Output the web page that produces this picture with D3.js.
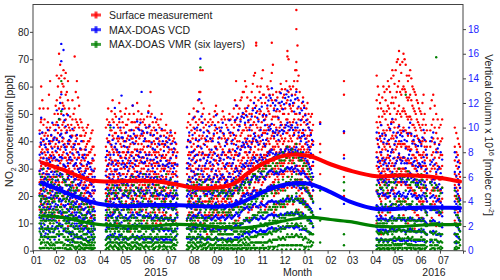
<!DOCTYPE html>
<html><head><meta charset="utf-8">
<script src="https://cdn.jsdelivr.net/npm/d3@7"></script>
<style>body{margin:0;background:#fff}svg{display:block;font-family:Arial,"Liberation Sans",sans-serif}</style>
</head><body><svg id="c" width="500" height="280"></svg>
<script>
// ---- tick labels ----
const monthLabels = ["01","02","03","04","05","06","07","08","09","10","11","12","01","02","03","04","05","06","07"];
const leftTicks = [0,10,20,30,40,50,60,70,80];
const rightTicks = [0,2,4,6,8,10,12,14,16,18];
const seriesNames = ["Surface measurement","MAX-DOAS  VCD","MAX-DOAS  VMR (six layers)"];

// ---- smoothed curves (day offset from 2015-01-01) ----
const lineDays   = [12,40,77,100,130,160,190,220,250,270,290,318,345,372,400,426,462,495,525,550,574];
const surfaceFit = [32.2,29.6,25.8,25.3,25.5,25.5,24.4,22.9,23.2,24.5,28.6,33.0,35.1,34.6,31.6,29.3,27.2,27.6,27.3,26.5,25.3];
const vcdFit     = [5.53,4.82,3.98,3.71,3.62,3.71,3.71,3.62,3.58,3.71,4.18,5.0,5.44,5.42,4.76,3.98,3.38,3.42,3.51,3.49,3.47];
const vmrFit     = [12.7,12.2,10.0,9.3,9.0,9.0,9.6,9.4,8.6,8.3,8.5,9.8,11.3,12.2,11.4,10.6,9.0,8.8,9.4,9.5,9.6];

// ---- scatter: [day, values...] ----
const surface = [
[9,52,44,38,33,29,25,21,15],[11,60,48,41,36,31,27,22,17,12],[14,52,46,40,34,30,26,23,19],[17,43,39,35,31,28,24,20,14,8],
[20,52,47,42,37,32,28,24,18],[23,62,45,40,35,30,26,21,16,10],[26,40,36,33,29,25,22,18,12],[29,50,44,38,34,30,27,23,19,13],
[32,64,55,47,41,36,31,27,22,16],[35,72,63,52,45,40,35,30,25,19,11],[38,64,58,50,44,38,33,28,23,17],[41,66,60,53,47,41,36,31,26,20,14],
[44,65,57,48,43,38,34,29,24,18],[47,62,55,46,40,35,31,27,22,15,9],[50,49,44,40,36,32,28,24,19,13],[53,55,48,42,37,33,29,25,20,14,4],
[56,71,52,45,39,34,30,26,21,15],[59,62,47,41,36,31,27,23,18,12],[62,53,45,39,34,30,26,22,17,11],[65,47,42,37,33,29,25,21,16,10],
[68,44,40,35,31,27,24,20,15,9],[71,43,38,34,30,26,22,18,13],[74,46,40,35,30,27,23,19,14,8],[77,41,36,32,28,25,21,17,12],
[80,44,38,33,29,25,22,18,13,7],[83,35,30,26,22,18,13],
[98,45,38,33,29,25,21,17,12],[101,52,46,40,35,31,27,23,18,11],[104,44,39,34,30,26,22,18,13],[107,55,48,42,37,32,28,24,19,14,8],
[110,50,43,38,33,29,25,21,16],[113,46,41,36,32,28,24,20,15,10],[116,54,47,41,36,32,28,24,19,13],[119,49,43,38,34,30,26,22,17],
[122,45,40,36,32,28,24,20,15,9],[125,52,46,40,35,31,27,23,18,12],[128,48,42,37,33,29,25,21,16],[131,44,39,35,31,27,23,19,14,7],
[134,53,47,41,36,32,28,24,19,13],[137,47,42,37,33,29,25,21,16],[140,54,48,42,37,33,29,25,20,14],[143,46,41,36,32,28,24,20,15,9],
[146,50,44,39,34,30,26,22,17],[149,48,43,38,34,30,26,22,17,11],[152,45,40,35,31,27,23,19,14],[155,51,45,40,35,31,27,23,18,12],
[158,58,49,43,38,33,29,25,20,14],[161,47,42,37,33,29,25,21,16,10],[164,44,39,35,31,27,23,19,14],[167,48,43,38,34,30,26,22,17,11],
[170,45,40,35,31,27,23,19,14],[173,50,44,39,34,30,26,22,17,12],[176,42,38,34,30,26,22,18,13],[179,46,40,35,31,27,23,19,14,8],
[182,41,36,32,28,24,20,16,11],[185,44,39,34,30,26,22,18,13],[188,40,35,31,27,23,19,15,10],[191,43,37,32,28,24,20,16,11],[194,36,31,27,23,19,14],
[207,45,38,32,28,24,20,16,11],[210,50,42,36,31,27,23,19,14,8],[213,44,38,33,29,25,21,17,12],[216,52,45,39,34,29,25,21,16,10],
[219,47,41,35,30,26,22,18,13],[222,55,46,40,35,30,26,22,17,11],[225,66,58,44,38,33,28,24,19,14],[228,66,50,42,36,31,27,23,18,12],
[231,48,41,35,30,26,22,18,13],[234,44,38,33,28,24,20,16,11,6],[237,50,43,37,32,27,23,19,14],[240,46,40,34,29,25,21,17,12,7],
[243,49,42,36,31,27,23,19,14],[246,53,45,38,33,28,24,20,15,9],[249,47,41,35,30,26,22,18,13],[252,44,38,33,28,24,20,16,11,6],
[255,51,43,37,32,27,23,19,14],[258,48,41,35,30,26,22,18,13,8],[261,45,39,34,29,25,21,17,12],[264,50,43,37,32,28,24,20,15,9],
[267,46,40,35,30,26,22,18,13],[270,52,45,39,34,29,25,21,16,10],[273,62,48,42,36,31,27,23,18],[276,50,44,38,33,29,25,21,16,11],
[279,55,48,42,37,32,28,24,19],[282,58,50,44,38,34,30,26,21,15],
[285,62,52,46,41,36,32,28,23,17],[288,56,49,44,39,35,31,27,22,16],[291,50,45,40,36,32,28,24,19,12],[294,58,50,44,39,34,30,26,21,15],
[297,64,54,47,41,36,32,28,23,17],[300,76,75,53,46,40,35,31,27,22,16],[303,55,48,42,37,33,29,25,20,14],[306,60,51,45,40,35,31,27,22,16],
[309,66,57,49,43,38,34,30,25,19],[312,54,48,43,38,34,30,26,21,15],[315,60,52,46,41,36,32,28,23,17],[318,57,50,44,39,35,31,27,22,16],
[321,76,65,55,48,42,37,33,28,22],[324,52,46,41,37,33,29,25,20,14],[327,58,51,45,40,36,32,28,23,17],[330,54,48,43,38,34,30,26,21],
[333,61,53,47,42,37,33,29,24,18],[336,56,50,44,39,35,31,27,22,16],[339,59,52,46,41,37,33,29,24],[342,73,71,55,48,43,38,34,29,23,17],
[345,60,53,47,42,38,34,30,25,19],[348,57,51,45,40,36,32,28,23],[351,62,54,48,43,38,34,30,25,18],[354,88,81,69,66,59,50,44,39,34,29,23],
[357,64,55,48,42,37,33,28,22,15],[360,52,46,41,37,33,29,24,18],[363,56,49,43,38,34,30,25,19,12],[366,50,44,39,35,31,27,22,16],
[369,54,48,42,37,33,28,23,17],[372,47,42,38,34,30,26,21],[375,50,44,39,35,31,26,20,14],[386,47,39,36,28],[418,62,57,43,35,27,20],
[462,64,55,47,41,36,31,27,22,16,10],[465,57,49,43,38,33,29,25,20,14],[468,52,46,40,35,31,27,23,18,12,6],[471,60,51,44,39,34,30,26,21,15],
[474,55,48,42,37,32,28,24,19,13,7],[477,62,53,46,40,35,31,27,22,16],[480,58,50,44,38,33,29,25,20,14,8],[483,66,56,48,42,37,32,28,23,17],
[486,61,52,45,39,34,30,26,21,15,9],[489,69,58,50,43,38,33,29,24,18],[492,73,62,53,46,40,35,30,25,19,12],[495,65,57,49,43,38,33,29,24,17],
[498,72,60,52,45,39,34,30,25,19,13],[501,68,58,50,44,38,33,29,24,18],[504,62,55,48,42,37,32,28,23,16,10],[507,66,57,49,43,37,32,28,23,17],
[510,60,53,46,40,35,31,27,22,15],[513,58,51,45,39,34,30,26,21,14,8],[516,55,48,42,37,33,29,25,20,13],[519,52,46,40,35,31,27,23,18,12],
[522,50,44,39,34,30,26,22,17],[525,57,48,41,36,31,27,23,18,11],[528,46,40,35,31,27,23,19,14],
[534,52,44,38,33,29,25,21,16,10],[538,57,48,41,36,31,27,23,18],[542,50,43,37,32,28,24,20,15,9],[546,45,39,34,30,26,22,18,13],[550,48,41,35,31,27,23,19,14],
[567,45,38,33,28,24,20,16,11,6],[571,41,35,30,26,22,18,14,9],[574,38,32,27,23,19,15,10]
];
const surfaceExtra = [
[10.5,47,39,34,30,26,22,18],[12.5,55,43,37,32,28,24,20,14],[15.5,48,42,36,32,27,24,20,16,11],[18.5,45,37,33,29,26,22,17],[21.5,57,44,39,34,30,26,21,15],
[24.5,42,38,34,31,27,23,19,13],[27.5,46,41,35,31,27,24,20,15],[30.5,53,46,39,33,29,25,21,16],[33.5,60,50,43,38,33,29,24,20,14],[36.5,68,56,48,42,37,32,27,22,16],
[39.5,61,54,46,40,35,30,25,20,13],[42.5,63,52,45,39,34,30,26,21,16],[45.5,58,50,44,38,33,28,24,19],[48.5,52,45,39,34,30,26,21,17,11],[51.5,46,42,38,33,29,25,21,16],
[54.5,50,44,39,35,31,27,23,18,12],[57.5,58,48,42,37,32,28,24,19,13],[60.5,56,46,39,34,30,26,22,16],[63.5,48,42,37,32,28,24,20,15,9],[66.5,45,40,35,31,27,23,18,13],
[69.5,42,37,33,29,25,21,17,12],[72.5,45,39,35,31,27,23,19,14,9],[75.5,40,36,32,28,24,20,16,11],[78.5,43,37,32,28,24,20,16,12],[81.5,38,33,29,25,21,16,10],
[99.5,48,41,35,31,27,23,19,15,9],[102.5,47,40,36,32,28,24,20,16],[105.5,51,44,38,33,29,25,21,17,12],[108.5,47,41,36,31,27,23,19,14],[111.5,49,43,37,33,29,25,21,17,11],
[114.5,45,40,35,31,27,23,19,15],[117.5,51,44,39,34,30,26,22,17,12],[120.5,47,41,36,32,28,24,20,15],[123.5,50,43,38,34,30,26,22,17,11],[126.5,46,41,36,32,28,24,20,16],
[129.5,50,44,38,34,30,26,22,17,10],[132.5,47,41,36,32,28,24,20,15],[135.5,50,44,39,34,30,26,22,18,12],[138.5,45,40,35,31,27,23,19,14],[141.5,51,45,39,35,31,27,23,18,11],
[144.5,48,42,37,33,29,25,21,16],[147.5,47,42,37,32,28,24,20,15,9],[150.5,46,41,36,32,28,24,20,16],[153.5,49,43,38,33,29,25,21,16,10],[156.5,53,46,40,36,32,28,24,19],
[159.5,50,44,39,35,31,27,23,18,12],[162.5,45,40,36,32,28,24,20,15],[165.5,47,41,36,32,28,24,20,16,10],[168.5,46,41,36,32,28,24,20,15],[171.5,48,42,37,33,29,25,21,16,10],
[174.5,44,39,35,31,27,23,19,14],[177.5,44,39,34,30,26,22,18,13,8],[180.5,43,38,33,29,25,21,17,12],[183.5,42,37,33,29,25,21,17,12],[186.5,42,37,32,28,24,20,16,11],
[189.5,41,36,32,28,24,20,16,11],[192.5,39,34,29,25,21,16],
[208.5,47,40,35,30,26,22,18,13],[211.5,46,40,35,30,26,22,18,13,9],[214.5,48,41,36,31,27,23,19,14],[217.5,49,43,37,32,28,24,20,15,9],[220.5,51,44,38,33,28,24,20,15],
[223.5,58,48,42,36,31,27,23,18,12],[226.5,54,47,41,35,30,26,22,17],[229.5,52,45,39,34,29,25,21,16,10],[232.5,46,40,35,30,26,22,18,13],[235.5,47,40,35,30,26,22,18,13,8],
[238.5,48,41,36,31,26,22,18,13],[241.5,47,41,35,30,26,22,18,13,8],[244.5,51,44,38,33,28,24,20,15],[247.5,50,43,37,32,27,23,19,14,9],[250.5,45,39,34,29,25,21,17,12],
[253.5,48,41,35,30,26,22,18,13,8],[256.5,49,42,36,31,27,23,19,14],[259.5,46,40,35,30,26,22,18,13,9],[262.5,48,41,36,31,27,23,19,14],[265.5,48,42,36,31,27,23,19,14,8],
[268.5,49,43,37,32,28,24,20,15],[271.5,55,47,41,35,30,26,22,17,11],[274.5,53,46,40,35,30,26,22,17],[277.5,52,46,40,35,31,27,23,18,12],[280.5,56,49,43,38,33,29,25,20],
[283.5,58,50,44,39,34,30,26,21,15],[286.5,60,51,45,40,36,32,28,23],[289.5,53,47,42,38,34,30,26,21,14],[292.5,55,48,42,37,33,29,25,20],[295.5,61,52,46,40,35,31,27,22,16],
[298.5,65,56,49,43,38,34,30,25],[301.5,60,51,45,40,35,31,27,22,16],[304.5,58,50,44,39,34,30,26,21],[307.5,63,54,47,42,37,33,29,24,18],[310.5,57,50,44,39,35,31,27,22],
[313.5,56,49,44,39,35,31,27,22,16],[316.5,59,51,45,40,36,32,28,23],[319.5,62,53,46,41,37,33,29,24,18],[322.5,68,57,49,43,38,34,30,25],[325.5,55,49,43,38,34,30,26,21,15],
[328.5,56,49,44,39,35,31,27,22],[331.5,58,51,45,40,36,32,28,23,17],[334.5,59,52,46,41,36,32,28,23],[337.5,57,50,45,40,36,32,28,23,17],[340.5,62,54,48,43,38,34,30,25],
[343.5,70,58,50,44,40,36,32,27,20],[346.5,59,52,46,41,37,33,29,24],[349.5,60,53,47,42,37,33,29,24,17],[352.5,66,57,50,44,39,35,31,26],[355.5,75,62,52,46,41,36,31,26,19],
[358.5,58,50,44,39,35,31,26,20],[361.5,54,48,43,38,34,30,26,21,14],[364.5,53,47,42,37,33,29,24,18],[367.5,52,46,41,36,32,28,23,17],[370.5,50,45,40,36,32,27,22],
[373.5,49,43,38,34,30,25,19],[376.5,46,40,35,31,27,22],
[463.5,60,52,45,39,34,30,26,21,15],[466.5,54,47,41,36,32,28,24,19,13],[469.5,56,49,42,37,33,29,25,20,14],[472.5,58,50,43,38,33,29,25,20],[475.5,59,51,44,39,34,30,26,21,15],
[478.5,60,52,45,39,34,30,26,21],[481.5,63,54,47,41,36,31,27,22,16],[484.5,64,54,47,41,36,31,27,22],[487.5,66,56,48,42,37,32,28,23,17],[490.5,70,60,51,45,39,34,30,25],
[493.5,68,58,50,44,39,34,30,25,18],[496.5,69,59,51,44,39,34,30,25],[499.5,70,59,51,44,39,34,30,25,18],[502.5,64,56,49,43,38,33,29,24],[505.5,64,56,49,43,38,33,29,24,17],
[508.5,63,55,48,42,37,32,28,23],[511.5,59,52,46,40,35,31,27,22,15],[514.5,57,50,44,38,34,30,26,21],[517.5,54,47,41,36,32,28,24,19,13],[520.5,51,45,40,35,31,27,23,18],
[523.5,54,46,40,35,31,27,23,18,12],[526.5,50,43,38,33,29,25,21,16],[529.5,44,38,34,30,26,22,18],
[536,55,46,40,35,30,26,22,17,12],[540,53,45,39,34,30,26,22,17],[544,48,41,36,31,27,23,19,14,10],[548,46,40,35,30,26,22,18],
[569,43,36,31,27,23,19,15,10],[572.5,39,33,28,24,20,16,12]
];
const vcd = [
[9,9.5,7.8,6.5,5.4,4.5,3.6,2.7,1.8],[11,10.8,8.6,7.1,6.0,5.0,4.1,3.2,2.2,1.2],[14,9.0,7.5,6.3,5.3,4.4,3.5,2.6,1.6],[17,8.4,7.0,5.9,5.0,4.2,3.3,2.4,1.4],
[20,9.8,8.0,6.7,5.6,4.7,3.8,2.9,1.9,1.0],[23,8.7,7.2,6.0,5.1,4.3,3.4,2.5,1.5],[26,10.4,8.3,6.9,5.8,4.8,3.9,3.0,2.0],[29,9.2,7.6,6.4,5.4,4.5,3.6,2.7,1.7,0.9],
[32,11.4,9.0,7.4,6.2,5.2,4.3,3.3,2.3],[35,10.7,8.8,7.3,6.1,5.1,4.1,3.1,2.1,1.2],[38,16.8,15.4,12.7,9.5,7.6,6.2,5.0,4.0,3.0,1.9],[41,16.3,11.0,8.6,7.0,5.8,4.7,3.7,2.7,1.6],
[44,10.1,8.2,6.8,5.6,4.6,3.7,2.8,1.8],[47,11.0,8.7,7.1,5.9,4.8,3.8,2.8,1.8,0.8],[50,9.3,7.6,6.3,5.2,4.3,3.4,2.5,1.5],[53,9.9,7.9,6.4,5.3,4.3,3.4,2.5,1.5,0.7],
[56,8.6,7.0,5.8,4.8,3.9,3.1,2.2,1.3],[59,9.4,7.4,6.0,4.9,4.0,3.1,2.2,1.3],[62,7.8,6.4,5.3,4.4,3.6,2.8,2.0,1.1],[65,8.9,7.0,5.7,4.7,3.8,3.0,2.1,1.2,0.6],
[68,7.5,6.1,5.0,4.1,3.3,2.5,1.7,0.9],[71,8.2,6.5,5.3,4.3,3.5,2.7,1.9,1.0],[74,7.2,5.9,4.8,4.0,3.2,2.4,1.6,0.8],[77,6.8,5.6,4.6,3.8,3.0,2.3,1.5],
[80,7.5,6.0,4.9,4.0,3.2,2.4,1.6,0.9],[83,6.0,4.9,4.0,3.2,2.5,1.7],
[98,7.6,6.1,5.0,4.1,3.3,2.5,1.7,0.9],[101,8.8,7.0,5.6,4.6,3.7,2.9,2.1,1.2],[104,10.2,7.8,6.2,5.0,4.0,3.1,2.2,1.3,0.7],[107,9.0,7.2,5.8,4.7,3.8,2.9,2.0,1.1],
[110,11.6,8.4,6.6,5.3,4.2,3.2,2.3,1.4],[113,8.2,6.6,5.3,4.3,3.4,2.6,1.8,1.0],[116,10.7,8.0,6.3,5.0,4.0,3.1,2.2,1.3,0.6],[119,12.6,9.2,7.0,5.5,4.3,3.3,2.3,1.3],
[122,8.5,6.8,5.5,4.5,3.6,2.7,1.9,1.0],[125,9.6,7.5,6.0,4.8,3.8,2.9,2.0,1.1],[128,8.0,6.5,5.3,4.3,3.4,2.6,1.8,0.9],[131,9.3,7.3,5.8,4.7,3.7,2.8,1.9,1.0],
[134,11.8,8.8,6.8,5.3,4.1,3.1,2.1,1.2],[137,8.7,7.0,5.6,4.5,3.6,2.7,1.8,0.9],[140,10.5,8.1,6.4,5.1,4.0,3.0,2.1,1.2,0.6],[143,9.8,7.6,6.0,4.8,3.8,2.9,2.0,1.1],
[146,12.9,9.5,7.2,5.6,4.3,3.2,2.2,1.2],[149,8.9,7.1,5.7,4.6,3.6,2.7,1.8,0.9],[152,10.0,7.8,6.2,4.9,3.8,2.8,1.9,1.0],[155,11.2,8.5,6.6,5.2,4.0,3.0,2.0,1.1],
[158,9.4,7.4,5.9,4.7,3.7,2.8,1.9,1.0],[161,8.3,6.7,5.4,4.4,3.5,2.6,1.7,0.8],[164,10.8,8.2,6.4,5.0,3.9,2.9,2.0,1.1],[167,9.1,7.2,5.8,4.6,3.6,2.7,1.8,0.9],
[170,8.6,6.9,5.6,4.5,3.5,2.6,1.7],[173,9.9,7.7,6.1,4.8,3.7,2.8,1.9,1.0],[176,8.1,6.5,5.2,4.2,3.3,2.5,1.6,0.8],[179,9.2,7.3,5.8,4.6,3.6,2.7,1.8,1.0],
[182,8.4,6.8,5.5,4.4,3.4,2.5,1.6],[185,9.6,7.5,5.9,4.7,3.7,2.7,1.8,0.9],[188,8.0,6.4,5.2,4.2,3.3,2.4,1.5],[191,8.8,7.0,5.6,4.5,3.5,2.6,1.7,0.9],[194,7.0,5.6,4.5,3.6,2.7,1.8],
[207,8.4,6.7,5.4,4.4,3.5,2.6,1.8,1.0],[210,9.6,7.5,6.0,4.8,3.8,2.9,2.0,1.1],[213,8.0,6.5,5.3,4.3,3.4,2.6,1.7,0.9],[216,10.8,8.1,6.4,5.0,3.9,2.9,2.0,1.1],
[219,9.0,7.2,5.8,4.6,3.6,2.7,1.8],[222,11.3,8.5,6.6,5.2,4.0,3.0,2.0,1.1],[225,15.6,9.8,7.4,5.7,4.4,3.3,2.3,1.3,0.7],[228,10.4,7.9,6.2,4.9,3.8,2.8,1.9,1.0],
[231,8.6,6.9,5.6,4.5,3.5,2.6,1.7],[234,9.3,7.3,5.8,4.6,3.6,2.7,1.8,0.9],[237,10.1,7.8,6.1,4.8,3.7,2.8,1.9,1.0],[240,8.2,6.6,5.3,4.3,3.4,2.5,1.6],
[243,9.5,7.4,5.9,4.7,3.6,2.7,1.8,0.9],[246,11.0,8.3,6.5,5.1,3.9,2.9,2.0,1.1],[249,8.8,7.0,5.6,4.5,3.5,2.6,1.7,0.8],[252,9.7,7.5,5.9,4.7,3.6,2.7,1.8],
[255,10.4,8.0,6.2,4.9,3.8,2.8,1.9,1.0],[258,8.5,6.8,5.5,4.4,3.4,2.5,1.6],[261,9.0,7.1,5.7,4.6,3.6,2.7,1.8,0.9],[264,10.6,8.1,6.3,5.0,3.9,2.9,2.0],
[267,8.7,6.9,5.6,4.5,3.5,2.6,1.7,0.9],[270,9.4,7.4,5.9,4.7,3.7,2.8,1.9],[273,11.8,8.6,6.7,5.3,4.1,3.1,2.1,1.1],[276,9.8,7.7,6.1,4.9,3.8,2.8,1.9,1.0],
[279,10.5,8.2,6.5,5.2,4.1,3.1,2.1],[282,11.2,8.8,7.0,5.6,4.4,3.3,2.2,1.2],
[285,10.4,8.4,6.8,5.5,4.4,3.4,2.4,1.4],[288,11.6,9.1,7.3,5.9,4.7,3.6,2.5,1.5],[291,9.8,8.0,6.6,5.4,4.3,3.3,2.3,1.3],[294,10.9,8.8,7.1,5.8,4.6,3.5,2.5,1.5],
[297,12.0,9.5,7.6,6.1,4.9,3.8,2.7,1.6],[300,11.2,9.0,7.3,5.9,4.7,3.6,2.6,1.5],[303,10.5,8.6,7.0,5.7,4.6,3.5,2.5,1.4],[306,12.4,9.8,7.8,6.3,5.0,3.9,2.8,1.7],
[309,11.0,9.0,7.4,6.0,4.8,3.7,2.6,1.5],[312,10.2,8.5,7.0,5.8,4.7,3.6,2.6,1.5],[315,11.8,9.5,7.7,6.3,5.1,3.9,2.8,1.7],[318,12.6,10.1,8.1,6.5,5.2,4.0,2.9,1.8],
[321,13.2,10.3,8.2,6.6,5.3,4.1,3.0,1.9],[324,11.4,9.3,7.6,6.2,5.0,3.9,2.8,1.7],[327,12.2,9.8,7.9,6.4,5.1,4.0,2.9,1.8],[330,10.8,9.0,7.5,6.2,5.0,3.9,2.8,1.7],
[333,12.8,10.2,8.2,6.6,5.3,4.1,3.0,1.9],[336,11.5,9.5,7.8,6.4,5.2,4.0,2.9],[339,12.4,10.0,8.1,6.6,5.3,4.1,3.0,1.9],[342,13.0,10.4,8.4,6.8,5.5,4.3,3.1,2.0],
[345,11.9,9.8,8.0,6.6,5.3,4.1,3.0,1.9],[348,12.6,10.2,8.3,6.8,5.5,4.3,3.1],[351,11.3,9.4,7.8,6.4,5.2,4.0,2.9,1.8],[354,12.9,10.4,8.4,6.9,5.6,4.4,3.2,2.0],
[357,11.7,9.6,7.9,6.5,5.3,4.1,3.0,1.9],[360,10.6,8.9,7.4,6.2,5.0,3.9,2.8],[363,12.1,9.8,8.0,6.5,5.3,4.1,3.0,1.8],[366,11.0,9.1,7.5,6.2,5.0,3.9,2.8,1.7],
[369,10.3,8.6,7.2,5.9,4.8,3.7,2.6],[372,9.8,8.2,6.8,5.6,4.5,3.5,2.5,1.5],[375,9.0,7.6,6.3,5.2,4.2,3.2,2.2],[386,10.3,5.2,3.4],[418,9.7,7.5,3.8],
[462,9.6,7.6,6.0,4.8,3.7,2.8,1.9,1.0,0.4],[465,8.4,6.8,5.5,4.4,3.4,2.5,1.6,0.8],[468,10.2,8.0,6.3,5.0,3.8,2.8,1.9,1.0],[471,8.8,7.0,5.6,4.5,3.5,2.6,1.7,0.8],
[474,9.4,7.4,5.9,4.6,3.6,2.6,1.7,0.9],[477,8.1,6.6,5.3,4.3,3.3,2.4,1.5,0.7],[480,9.9,7.7,6.0,4.7,3.6,2.6,1.7,0.9],[483,10.7,8.2,6.4,5.0,3.8,2.8,1.8,0.9],
[486,8.6,6.9,5.5,4.4,3.4,2.5,1.6,0.8],[489,9.2,7.3,5.8,4.6,3.5,2.6,1.7],[492,10.1,7.9,6.2,4.8,3.7,2.7,1.8,0.9],[495,8.9,7.1,5.6,4.4,3.4,2.5,1.6,0.8],
[498,9.7,7.6,6.0,4.7,3.6,2.6,1.7,0.9],[501,8.3,6.7,5.4,4.3,3.3,2.4,1.5],[504,9.5,7.5,5.9,4.6,3.5,2.6,1.7,0.8],[507,10.4,8.1,6.3,4.9,3.7,2.7,1.8,0.9],
[510,8.7,7.0,5.6,4.4,3.4,2.5,1.6],[513,9.3,7.3,5.8,4.5,3.5,2.5,1.6,0.8],[516,8.0,6.5,5.2,4.2,3.3,2.4,1.5],[519,9.0,7.1,5.7,4.5,3.5,2.6,1.7,0.8],
[522,8.5,6.8,5.4,4.3,3.3,2.4,1.5],[525,9.8,7.6,6.0,4.7,3.6,2.6,1.7,0.9],[528,8.2,6.6,5.3,4.2,3.2,2.3,1.4],
[534,8.9,7.0,5.5,4.3,3.3,2.4,1.5,0.7],[538,9.6,7.4,5.8,4.5,3.4,2.5,1.6],[542,8.0,6.4,5.1,4.0,3.1,2.2,1.3],[546,8.6,6.8,5.4,4.2,3.2,2.3,1.4,0.7],[550,7.4,5.9,4.7,3.7,2.8,1.9],
[567,8.0,6.4,5.1,4.0,3.1,2.2,1.4,0.7],[571,7.2,5.8,4.6,3.6,2.7,1.9,1.1],[574,6.4,5.1,4.1,3.2,2.4,1.6]
];
const vcdExtra = [
[10.5,8.8,7.2,6.0,5.0,4.0,3.1,2.2,1.4],[12.5,9.6,7.9,6.6,5.5,4.6,3.7,2.8,1.9],[15.5,8.6,7.1,5.8,4.8,3.9,3.0,2.1,1.2],[18.5,9.1,7.5,6.2,5.2,4.3,3.5,2.6,1.7],
[21.5,8.9,7.4,6.2,5.2,4.3,3.4,2.5,1.6],[24.5,9.4,7.7,6.4,5.4,4.5,3.6,2.7,1.8],[27.5,9.0,7.5,6.2,5.2,4.3,3.4,2.5,1.5],[30.5,9.8,8.1,6.8,5.7,4.7,3.8,2.8,1.9],
[33.5,10.2,8.3,6.9,5.7,4.7,3.7,2.8,1.8],[36.5,12.0,9.4,7.6,6.3,5.2,4.2,3.2,2.2],[39.5,11.5,9.2,7.5,6.2,5.1,4.1,3.1,2.1],[42.5,10.6,8.4,6.9,5.7,4.6,3.6,2.6,1.7],
[45.5,9.6,7.9,6.5,5.3,4.3,3.4,2.4,1.5],[48.5,9.0,7.4,6.1,5.0,4.1,3.2,2.3,1.4],[51.5,9.2,7.4,6.0,4.9,3.9,3.0,2.1,1.2],[54.5,8.4,6.9,5.6,4.6,3.7,2.8,1.9,1.0],
[57.5,8.9,7.1,5.8,4.7,3.8,2.9,2.0,1.1],[60.5,8.0,6.6,5.4,4.4,3.5,2.7,1.8,1.0],[63.5,8.3,6.7,5.5,4.5,3.6,2.7,1.8,1.0],[66.5,7.6,6.2,5.1,4.2,3.4,2.6,1.8,1.0],
[69.5,7.8,6.3,5.1,4.2,3.4,2.6,1.8,0.9],[72.5,7.0,5.7,4.7,3.8,3.0,2.2,1.4],[75.5,7.1,5.8,4.7,3.9,3.1,2.3,1.5,0.8],[78.5,6.6,5.4,4.4,3.6,2.8,2.0,1.3],[81.5,6.5,5.2,4.2,3.4,2.6,1.8,1.0],
[99.5,8.1,6.6,5.4,4.4,3.6,2.7,1.9,1.1],[102.5,9.4,7.4,5.9,4.7,3.7,2.8,1.9,1.0],[105.5,8.6,7.0,5.7,4.6,3.7,2.8,2.0,1.2],[108.5,10.0,7.8,6.2,4.9,3.9,3.0,2.1,1.2],
[111.5,8.7,7.0,5.6,4.5,3.6,2.7,1.9,1.0],[114.5,9.3,7.3,5.8,4.7,3.7,2.8,1.9,1.1],[117.5,10.0,7.7,6.1,4.9,3.9,3.0,2.1,1.2],[120.5,9.2,7.3,5.8,4.6,3.6,2.7,1.8,0.9],
[123.5,8.9,7.0,5.6,4.5,3.6,2.7,1.8,1.0],[126.5,8.4,6.8,5.5,4.4,3.5,2.6,1.7,0.9],[129.5,9.0,7.1,5.7,4.6,3.6,2.7,1.8,1.0],[132.5,9.8,7.7,6.1,4.9,3.9,2.9,2.0,1.1],
[135.5,9.5,7.5,6.0,4.8,3.8,2.9,2.0,1.1],[138.5,9.2,7.3,5.8,4.6,3.6,2.7,1.8,1.0],[141.5,9.9,7.7,6.1,4.9,3.8,2.9,2.0,1.1],[144.5,10.4,8.0,6.3,5.0,3.9,2.9,2.0,1.0],
[147.5,9.7,7.6,6.0,4.8,3.8,2.8,1.9,1.0],[150.5,9.1,7.2,5.8,4.6,3.6,2.7,1.8,0.9],[153.5,9.6,7.5,6.0,4.7,3.7,2.8,1.9,1.0],[156.5,10.1,7.8,6.2,4.9,3.8,2.8,1.9,1.0],
[159.5,8.8,7.0,5.6,4.5,3.5,2.6,1.7,0.9],[162.5,9.4,7.4,5.9,4.7,3.7,2.7,1.8,1.0],[165.5,9.8,7.6,6.0,4.8,3.7,2.8,1.9,1.0],[168.5,8.7,6.9,5.6,4.5,3.5,2.6,1.7,0.9],
[171.5,9.3,7.3,5.8,4.6,3.6,2.7,1.8,1.0],[174.5,8.9,7.0,5.6,4.5,3.5,2.6,1.7,0.9],[177.5,8.6,6.9,5.5,4.4,3.5,2.6,1.7,0.9],[180.5,8.8,7.0,5.6,4.5,3.5,2.6,1.7,0.9],
[183.5,9.0,7.1,5.7,4.5,3.5,2.6,1.7,0.9],[186.5,8.7,6.9,5.5,4.4,3.4,2.5,1.6,0.8],[189.5,8.3,6.7,5.4,4.3,3.4,2.5,1.6],[192.5,7.7,6.1,4.9,3.9,3.0,2.1,1.2],
[208.5,9.0,7.1,5.7,4.6,3.6,2.7,1.8,1.0],[211.5,8.8,7.0,5.6,4.5,3.5,2.6,1.7,0.9],[214.5,9.4,7.4,5.9,4.7,3.7,2.8,1.9,1.0],[217.5,9.9,7.7,6.1,4.8,3.8,2.8,1.9,1.0],
[220.5,10.0,7.8,6.2,4.9,3.8,2.8,1.9,1.0],[223.5,12.3,9.0,6.9,5.4,4.2,3.1,2.1,1.1],[226.5,10.9,8.3,6.5,5.1,3.9,2.9,2.0,1.0],[229.5,9.6,7.5,6.0,4.8,3.7,2.7,1.8,1.0],
[232.5,9.0,7.1,5.7,4.6,3.6,2.7,1.8,0.9],[235.5,9.7,7.6,6.0,4.8,3.7,2.7,1.8,1.0],[238.5,9.1,7.2,5.8,4.6,3.6,2.6,1.7,0.9],[241.5,8.9,7.0,5.6,4.5,3.5,2.6,1.7,0.9],
[244.5,10.2,7.9,6.2,4.9,3.8,2.8,1.9,1.0],[247.5,9.9,7.7,6.1,4.8,3.7,2.7,1.8,1.0],[250.5,9.2,7.3,5.8,4.6,3.6,2.6,1.7,0.9],[253.5,10.0,7.8,6.1,4.8,3.7,2.7,1.8,1.0],
[256.5,9.5,7.4,5.9,4.7,3.6,2.7,1.8,0.9],[259.5,8.8,7.0,5.6,4.5,3.5,2.6,1.7,0.9],[262.5,9.8,7.6,6.0,4.8,3.7,2.8,1.9,1.0],[265.5,9.6,7.5,6.0,4.8,3.7,2.7,1.8,1.0],
[268.5,9.0,7.1,5.7,4.6,3.6,2.7,1.8,0.9],[271.5,10.6,8.1,6.4,5.1,3.9,2.9,2.0,1.1],[274.5,10.8,8.3,6.5,5.2,4.0,3.0,2.0,1.1],[277.5,10.1,7.9,6.3,5.0,3.9,2.9,2.0,1.1],
[280.5,10.9,8.5,6.8,5.4,4.2,3.2,2.2,1.2],
[283.5,10.8,8.6,6.9,5.6,4.5,3.5,2.5,1.5],[286.5,11.0,8.8,7.1,5.8,4.6,3.5,2.5,1.5],[289.5,10.6,8.5,6.9,5.6,4.5,3.4,2.4,1.4],[292.5,10.2,8.4,6.9,5.7,4.6,3.5,2.5,1.5],
[295.5,11.4,9.1,7.4,6.0,4.8,3.7,2.6,1.6],[298.5,11.6,9.3,7.5,6.1,4.9,3.8,2.7,1.6],[301.5,10.8,8.8,7.2,5.9,4.7,3.6,2.6,1.5],[304.5,11.5,9.2,7.4,6.0,4.8,3.7,2.6,1.6],
[307.5,11.7,9.4,7.6,6.2,4.9,3.8,2.7,1.6],[310.5,10.6,8.7,7.2,5.9,4.8,3.7,2.6,1.6],[313.5,11.0,9.0,7.4,6.1,4.9,3.8,2.7,1.6],[316.5,12.2,9.8,7.9,6.4,5.2,4.0,2.9,1.8],
[319.5,12.4,9.9,8.0,6.5,5.2,4.0,2.9,1.8],[322.5,12.0,9.7,7.9,6.4,5.1,4.0,2.9,1.8],[325.5,11.8,9.6,7.8,6.3,5.1,4.0,2.9,1.8],[328.5,11.5,9.4,7.7,6.3,5.1,3.9,2.8,1.7],
[331.5,12.0,9.7,7.9,6.4,5.2,4.0,2.9,1.8],[334.5,12.1,9.8,8.0,6.5,5.2,4.0,2.9,1.8],[337.5,11.9,9.7,7.9,6.5,5.2,4.0,2.9,1.8],[340.5,12.7,10.2,8.3,6.7,5.4,4.2,3.0,1.9],
[343.5,12.5,10.1,8.2,6.7,5.4,4.2,3.0,1.9],[346.5,12.2,10.0,8.2,6.7,5.4,4.2,3.1,2.0],[349.5,12.0,9.8,8.0,6.6,5.3,4.1,3.0,1.9],[352.5,12.3,10.0,8.2,6.7,5.4,4.2,3.0,1.9],
[355.5,12.4,10.0,8.1,6.6,5.3,4.1,3.0,1.9],[358.5,11.2,9.2,7.6,6.3,5.1,3.9,2.8,1.7],[361.5,11.4,9.3,7.6,6.3,5.1,3.9,2.8,1.7],[364.5,11.6,9.4,7.7,6.3,5.1,3.9,2.8,1.7],
[367.5,10.6,8.8,7.3,6.0,4.8,3.7,2.7,1.6],[370.5,10.0,8.4,7.0,5.8,4.7,3.6,2.6,1.5],[373.5,9.4,7.9,6.6,5.4,4.4,3.4,2.4,1.4],[376.5,8.6,7.2,6.0,4.9,3.9,2.9,1.9],
[463.5,9.0,7.2,5.7,4.6,3.6,2.6,1.7,0.9],[466.5,9.3,7.3,5.8,4.6,3.5,2.6,1.7,0.8],[469.5,9.5,7.5,5.9,4.7,3.6,2.6,1.7,0.9],[472.5,9.1,7.2,5.7,4.5,3.5,2.5,1.6,0.8],
[475.5,8.7,6.9,5.5,4.4,3.4,2.5,1.6,0.8],[478.5,9.0,7.1,5.6,4.4,3.4,2.5,1.6,0.8],[481.5,10.3,8.0,6.2,4.9,3.7,2.7,1.8,0.9],[484.5,9.6,7.5,5.9,4.6,3.5,2.6,1.7,0.8],
[487.5,8.9,7.1,5.6,4.4,3.4,2.5,1.6,0.8],[490.5,9.6,7.6,6.0,4.7,3.6,2.6,1.7,0.9],[493.5,9.4,7.4,5.9,4.6,3.5,2.6,1.7,0.8],[496.5,9.3,7.3,5.8,4.5,3.5,2.5,1.6,0.8],
[499.5,9.0,7.1,5.6,4.4,3.4,2.5,1.6,0.8],[502.5,8.9,7.1,5.6,4.4,3.4,2.5,1.6,0.8],[505.5,10.0,7.8,6.1,4.8,3.6,2.6,1.7,0.9],[508.5,9.5,7.5,5.9,4.6,3.5,2.6,1.7,0.8],
[511.5,9.0,7.2,5.7,4.5,3.5,2.5,1.6,0.8],[514.5,8.6,6.9,5.5,4.3,3.3,2.4,1.5,0.7],[517.5,8.5,6.8,5.5,4.3,3.4,2.5,1.6,0.8],[520.5,8.8,7.0,5.6,4.4,3.4,2.5,1.6,0.8],
[523.5,9.2,7.2,5.7,4.5,3.5,2.5,1.6,0.8],[526.5,9.0,7.1,5.6,4.4,3.4,2.4,1.5,0.7],[529.5,7.8,6.3,5.0,4.0,3.1,2.2,1.3],
[536,9.2,7.2,5.6,4.4,3.3,2.4,1.5,0.8],[540,8.8,7.0,5.5,4.3,3.3,2.4,1.5],[544,8.3,6.6,5.2,4.1,3.1,2.2,1.3,0.7],[548,8.0,6.3,5.0,3.9,3.0,2.1,1.2],
[569,7.6,6.1,4.8,3.8,2.9,2.0,1.2,0.6],[572.5,6.8,5.4,4.3,3.4,2.5,1.7,1.0]
];
const vmr = [
[9,28,20,16,13,10,7,4,1],[11,25,19,15,12,9,6,3],[14,30,22,17,13,10,7,4,1],[17,24,18,14,11,8,5,2],[20,27,21,16,12,9,6,3,1],
[23,22,17,13,10,7,4,2],[26,26,19,15,11,8,5,2],[29,23,18,14,11,8,5,2,0.5],[32,29,21,16,12,9,6,3],[35,48,24,18,14,10,7,4,1],
[38,62,51,22,16,12,9,6,3],[41,26,19,14,11,8,5,2],[44,24,18,14,10,7,4,1],[47,28,20,15,11,8,5,2,0.5],[50,22,16,12,9,6,3,1],
[53,25,18,13,10,7,4,2],[56,20,15,11,8,5,3,1],[59,23,16,12,9,6,3,1],[62,19,14,10,7,5,2,0.5],[65,21,15,11,8,5,3,1],
[68,17,12,9,6,4,2,0.5],[71,18,13,9,6,4,2,1],[74,16,11,8,5,3,1],[77,14,10,7,4,2,1],[80,15,10,7,5,3,1,0.5],[83,12,8,5,3,1],
[98,18,13,10,7,4,2,0.5],[101,22,16,12,8,5,3,1],[104,45,19,14,10,7,4,2],[107,24,17,12,9,6,3,1],[110,20,14,10,7,4,2],
[113,23,16,12,8,5,3,1],[116,19,14,10,7,4,2,0.5],[119,26,18,13,9,6,3,1],[122,21,15,11,7,4,2],[125,24,17,12,8,5,3,1],
[128,20,14,10,7,4,2],[131,22,16,11,8,5,2,0.5],[134,27,19,13,9,6,3,1],[137,21,15,10,7,4,2],[140,25,17,12,8,5,3,1],
[143,20,14,10,7,4,2,0.5],[146,23,16,11,8,5,2],[149,28,19,13,9,6,3,1],[152,21,15,10,7,4,2],[155,24,17,12,8,5,3,1],
[158,26,18,13,9,6,3],[161,20,14,10,7,4,2,0.5],[164,22,16,11,8,5,3,1],[167,27,19,13,9,6,3],[170,21,15,11,7,4,2,1],
[173,25,18,12,8,5,3],[176,22,16,11,8,5,2,0.5],[179,28,20,14,10,6,3,1],[182,23,16,11,8,5,3],[185,26,18,12,9,6,3,1],
[188,21,15,10,7,4,2],[191,24,17,12,8,5,2,0.5],[194,19,13,9,6,3],
[207,22,16,11,8,5,2,0.5],[210,26,18,13,9,6,3,1],[213,20,14,10,7,4,2],[216,24,17,12,8,5,3,1],[219,21,15,10,7,4,2],
[222,28,19,13,9,6,3,1],[225,67,22,15,10,7,4,2],[228,25,17,12,8,5,2,0.5],[231,20,14,10,7,4,2],[234,23,16,11,8,5,3,1],
[237,26,18,12,8,5,2],[240,19,13,9,6,4,2,0.5],[243,22,15,10,7,4,2],[246,25,17,11,8,5,3,1],[249,20,14,9,6,4,2],
[252,23,16,10,7,4,2,0.5],[255,21,14,9,6,3,1],[258,24,16,10,7,4,2],[261,19,13,9,6,3,1,0.5],[264,22,15,10,6,4,2],
[267,20,13,9,6,3,1],[270,23,15,10,7,4,2,0.5],[273,26,17,11,7,4,2],[276,21,14,9,6,3,1],[279,24,16,10,7,4,2,0.5],[282,22,15,10,6,3,1],
[285,25,17,11,7,4,2],[288,28,19,12,8,5,2,0.5],[291,23,16,11,7,4,2],[294,27,18,12,8,5,3,1],[297,30,20,13,9,5,2],
[300,26,18,12,8,5,3,1],[303,29,20,14,9,6,3],[306,32,22,15,10,6,3,1],[309,27,19,13,9,5,2],[312,31,21,14,10,6,3,1],
[315,28,20,14,9,6,3],[318,33,23,16,11,7,4,1],[321,30,21,15,10,6,3],[324,34,24,17,12,8,4,1],[327,29,21,15,10,7,4],
[330,35,25,18,13,9,5,2],[333,31,22,16,11,7,4],[336,36,26,19,13,9,5,2],[339,30,22,16,12,8,4],[342,38,27,20,14,10,6,2],
[345,33,24,18,13,9,5],[348,37,27,20,14,10,6,2],[351,32,24,18,13,9,5],[354,39,28,21,15,10,6,2],[357,34,25,19,14,9,5],
[360,36,26,19,14,10,6,2],[363,31,23,17,12,8,4],[366,35,25,18,13,9,5,1],[369,30,22,16,11,7,3],[372,28,20,15,10,6,3],
[375,26,19,14,10,6,2],[386,22,11,3],[418,25,22,6,2],
[462,24,16,11,7,4,2,0.5],[465,20,14,9,6,3,1],[468,26,17,11,7,4,2,0.5],[471,22,15,10,6,3,1],[474,25,17,11,7,4,2],
[477,21,14,9,6,3,1,0.5],[480,27,18,12,8,4,2],[483,23,15,10,6,3,1],[486,28,19,12,8,5,2,0.5],[489,24,16,11,7,4,2],
[492,30,20,13,8,5,2,1],[495,26,17,11,7,4,2],[501,57,22,15,10,6,3,1],[504,29,19,12,8,5,2],[507,24,16,11,7,4,2,1],
[510,27,18,12,8,5,2],[513,22,15,10,7,4,2,0.5],[516,26,17,11,7,4,2],[519,23,16,11,7,4,1],[522,28,19,12,8,5,2,0.5],
[525,24,16,11,7,4,2],[528,21,14,9,6,3,1],[534,25,17,11,7,4,2,0.5],[538,22,15,10,6,3,1],[542,70.7,24,16,10,7,4,2],
[546,20,14,9,6,3,1],[550,23,15,10,6,3,1],[567,22,15,10,6,3,1,0.5],[571,19,13,9,6,3,1],[574,17,11,7,4,2]
];
const vmrExtra = [
[10.5,24,18,14,11,8,5,2.5,0.8],[12.5,27,20,15,11,8,5,3,1],[15.5,25,19,15,11,8,5,3,1],[18.5,26,19,15,11,8,5,3,1],[21.5,24,18,14,11,8,5,2.5,0.8],
[24.5,25,19,14,11,8,5,3,1],[27.5,24,18,14,10,7,5,2.5,0.8],[30.5,27,20,15,11,8,5,3,1],[33.5,26,20,15,12,9,6,3,1],[36.5,28,21,16,12,9,6,3,1],
[39.5,27,20,15,12,9,6,3,1],[42.5,25,19,14,11,8,5,2.5,0.8],[45.5,26,19,14,10,7,4,2,0.5],[48.5,24,18,13,10,7,4,2,0.5],[51.5,23,17,13,9,6,4,2,0.5],
[54.5,22,16,12,9,6,3.5,1.5],[57.5,22,16,12,8,5,3,1.5,0.4],[60.5,20,15,11,8,5,3,1.5],[63.5,20,14,10,7,5,3,1.5,0.4],[66.5,18,13,10,7,4.5,2.5,1],
[69.5,19,13,9,6,4,2.5,1,0.3],[72.5,17,12,8,6,3.5,2,1],[75.5,15,11,8,5,3,2,0.8],[78.5,16,11,8,5,3,2,1,0.3],[81.5,13,9,6,4,2,0.8],
[99.5,20,14,10,7,4.5,2.5,1],[102.5,21,15,11,8,5,3,1.5,0.4],[105.5,23,16,12,8,5,3,1.5],[108.5,21,15,11,8,5,3,1.5,0.4],[111.5,22,15,11,8,5,3,1.5],
[114.5,21,15,11,7,4.5,2.5,1,0.3],[117.5,23,16,12,8,5,3,1.5],[120.5,24,17,12,8,5,3,1.5,0.4],[123.5,22,16,11,8,5,3,1.5],[126.5,22,15,11,7,4.5,2.5,1,0.3],
[129.5,21,15,11,7,4.5,2.5,1],[132.5,25,17,12,8,5,3,1.5,0.4],[135.5,24,17,12,8,5,3,1.5],[138.5,23,16,11,8,5,3,1.5,0.4],[141.5,22,16,11,7,4.5,2.5,1],
[144.5,21,15,11,7,4.5,2.5,1,0.3],[147.5,26,18,12,8,5,3,1.5],[150.5,25,17,12,8,5,3,1.5,0.4],[153.5,22,16,11,8,5,3,1.5],[156.5,25,17,12,8,5,3,1.5,0.4],
[159.5,23,16,11,8,5,3,1.5],[162.5,21,15,11,7,4.5,2.5,1,0.3],[165.5,24,17,12,8,5,3,1.5],[168.5,24,17,12,8,5,3,1.5,0.4],[171.5,23,16,11,8,5,3,1.5],
[174.5,23,16,11,8,5,3,1.5,0.4],[177.5,25,18,12,8,5,3,1.5],[180.5,25,17,12,8,5,3,1.5,0.4],[183.5,24,17,12,8,5,3,1.5],[186.5,23,16,11,8,5,3,1.5,0.4],
[189.5,22,16,11,7,4.5,2.5,1],[192.5,21,15,10,7,4,2],
[208.5,24,17,12,8,5,3,1.5,0.4],[211.5,23,16,11,8,5,3,1.5],[214.5,22,16,11,8,5,3,1.5,0.4],[217.5,23,16,11,7,4.5,2.5,1],[220.5,25,17,12,8,5,3,1.5,0.4],
[223.5,26,18,12,8,5,3,1.5],[226.5,24,17,12,8,5,3,1.5,0.4],[229.5,22,16,11,7,4.5,2.5,1],[232.5,22,15,11,7,4.5,2.5,1,0.3],[235.5,24,17,12,8,5,3,1.5],
[238.5,22,15,10,7,4.5,2.5,1,0.3],[241.5,21,14,10,7,4,2,1],[244.5,23,16,11,7,4.5,2.5,1,0.3],[247.5,22,15,10,7,4,2,1],[250.5,21,14,10,6,4,2,1,0.3],
[253.5,22,15,10,6,4,2,1],[256.5,22,15,10,6,4,2,1,0.3],[259.5,21,14,9,6,3.5,2,0.8],[262.5,20,14,9,6,3.5,2,0.8,0.3],[265.5,21,14,9,6,3.5,2,0.8],
[268.5,22,15,10,6,3.5,2,0.8,0.3],[271.5,24,16,10,7,4,2,0.8],[274.5,23,16,10,7,4,2,0.8,0.3],[277.5,22,15,10,6,3.5,2,0.8],[280.5,23,16,10,7,4,2,0.8,0.3],
[283.5,24,17,11,7,4.5,2.5,1],[286.5,26,18,12,8,5,3,1,0.3],[289.5,25,17,11,7,4.5,2.5,1],[292.5,25,17,11,8,5,3,1,0.3],[295.5,28,19,13,8,5,3,1],
[298.5,28,19,13,9,5.5,3,1,0.3],[301.5,27,19,13,9,5.5,3,1],[304.5,30,21,14,9,6,3,1,0.3],[307.5,29,20,14,9,6,3,1],[310.5,29,20,14,9,6,3,1,0.3],
[313.5,30,21,14,10,6,3,1],[316.5,31,22,15,10,6.5,3.5,1.5,0.4],[319.5,31,22,15,10,6.5,3.5,1.5],[322.5,32,23,16,11,7,4,1.5,0.4],[325.5,31,22,16,11,7,4,1.5],
[328.5,32,23,16,11,7.5,4,1.5,0.4],[331.5,33,24,17,12,8,4.5,2],[334.5,33,24,17,12,8,4.5,2,0.5],[337.5,33,24,17,12,8,4.5,2],[340.5,34,25,18,13,9,5,2,0.5],
[343.5,35,25,18,13,9,5,2],[346.5,35,26,19,13,9,5,2,0.5],[349.5,34,25,18,13,9,5,2],[352.5,36,26,19,14,9.5,5.5,2,0.5],[355.5,35,26,19,14,9.5,5.5,2],
[358.5,33,24,18,13,9,5,2,0.5],[361.5,33,24,18,13,9,5,2],[364.5,32,24,17,12,8,4.5,1.5,0.4],[367.5,31,23,16,12,8,4.5,1.5],[370.5,29,21,15,11,7,4,1.5,0.4],
[373.5,27,20,14,10,6.5,3.5,1.5],[376.5,24,18,13,9,6,3],
[463.5,22,15,10,6.5,4,2,0.8],[466.5,23,15,10,6.5,4,2,0.8,0.3],[469.5,23,15,10,6.5,4,2,0.8],[472.5,24,16,10,6.5,4,2,0.8,0.3],[475.5,23,15,10,6.5,4,2,0.8],
[478.5,24,16,11,7,4,2,0.8,0.3],[481.5,25,16,11,7,4,2,0.8],[484.5,25,17,11,7,4.5,2.5,1,0.3],[487.5,26,17,11,7,4.5,2.5,1],[490.5,27,18,12,7.5,4.5,2.5,1,0.3],
[493.5,28,18,12,7.5,4.5,2.5,1],[496.5,27,18,12,7.5,4.5,2.5,1,0.3],[499.5,27,18,12,7.5,4.5,2.5,1],[502.5,26,17,11,7,4.5,2.5,1,0.3],[505.5,26,17,11,7,4.5,2.5,1],
[508.5,25,17,11,7,4.5,2.5,1,0.3],[511.5,25,16,11,7,4,2,1],[514.5,24,16,11,7,4,2,0.8,0.3],[517.5,24,16,11,7,4,2,0.8],[520.5,25,16,11,7,4,2,0.8,0.3],
[523.5,26,17,11,7,4,2,0.8],[526.5,23,15,10,6.5,4,2,0.8,0.3],[529.5,20,13,9,6,3.5,1.5],
[536,24,16,10,6.5,4,2,0.8],[540,23,15,10,6.5,4,2,0.8,0.3],[544,22,15,10,6,3.5,2,0.8],[548,21,14,9,6,3.5,1.5,0.5],
[569,20,13,9,6,3.5,1.5,0.5],[572.5,18,12,8,5,3,1]
];

// ---- layout ----
const svg = d3.select("#c");
const L = 33, R = 463, T = 4.5, B = 250.7;
const t0 = Date.UTC(2015, 0, 1);
const toDate = d => new Date(t0 + d * 86400000);
const x = d3.scaleUtc().domain([new Date(Date.UTC(2015,0,1)), new Date(Date.UTC(2016,7,1))]).range([L, R]);
const yL = d3.scaleLinear().domain([0, 90]).range([B, T]);
const yR = d3.scaleLinear().domain([0, 20]).range([B, T]);
const RED = "#ff0000", BLUE = "#0000ff", GREEN = "#008000";

function scatter(cols, y, color) {
  const pts = [];
  cols.forEach(c => { const dt = toDate(c[0]); for (let i = 1; i < c.length; i++) pts.push([dt, c[i]]); });
  svg.append("g").selectAll("circle").data(pts).join("circle")
    .attr("cx", d => x(d[0])).attr("cy", d => y(d[1])).attr("r", 1.2).attr("fill", color);
}
scatter(surface.concat(surfaceExtra), yL, RED);
scatter(vcd.concat(vcdExtra), yR, BLUE);
scatter(vmr.concat(vmrExtra), yL, GREEN);

function fit(vals, y, color, w) {
  const line = d3.line().x((d, i) => x(toDate(lineDays[i]))).y(d => y(d)).curve(d3.curveCatmullRom.alpha(0.5));
  svg.append("path").datum(vals).attr("d", line).attr("fill", "none").attr("stroke", color)
    .attr("stroke-width", w).attr("stroke-linecap", "round");
}
fit(surfaceFit, yL, RED, 4);
fit(vcdFit, yR, BLUE, 4);
fit(vmrFit, yL, GREEN, 3.2);

// ---- axes ----
const axisColor = "#444";
const ax = svg.append("g").attr("transform", `translate(0,${B})`)
  .call(d3.axisBottom(x).ticks(d3.utcMonth.every(1)).tickSize(3).tickPadding(3)
    .tickFormat((d, i) => monthLabels[i] || ""));
const ay = svg.append("g").attr("transform", `translate(${L},0)`)
  .call(d3.axisLeft(yL).tickValues(leftTicks).tickSize(3).tickPadding(1));
const ar = svg.append("g").attr("transform", `translate(${R},0)`)
  .call(d3.axisRight(yR).tickValues(rightTicks).tickSize(3).tickPadding(2));
[ax, ay, ar].forEach(a => {
  a.select(".domain").remove();
  a.selectAll("line").attr("stroke", axisColor);
  a.selectAll("text").attr("font-size", 10).attr("font-family", "Arial, 'Liberation Sans', sans-serif").attr("fill", "#222");
});
ax.selectAll("text").attr("dx", 3);
ar.selectAll("text").attr("fill", "#2222ff");

svg.append("rect").attr("x", L).attr("y", T).attr("width", R - L).attr("height", B - T)
  .attr("fill", "none").attr("stroke", axisColor).attr("stroke-width", 1);

// ---- titles ----
const lt = svg.append("text").attr("transform", `translate(13,131) rotate(-90)`).attr("text-anchor", "middle")
  .attr("font-size", 10.5).attr("fill", "#222");
lt.append("tspan").text("NO");
lt.append("tspan").attr("font-size", 7).attr("dy", 2.5).text("2");
lt.append("tspan").attr("dy", -2.5).text(" concentration [ppb]");

const rt = svg.append("text").attr("transform", `translate(485,135) rotate(90)`).attr("text-anchor", "middle")
  .attr("font-size", 10.5).attr("fill", "#222");
rt.append("tspan").text("Vertical column x 10");
rt.append("tspan").attr("font-size", 7).attr("dy", -4).text("16");
rt.append("tspan").attr("dy", 4).text(" [molec cm");
rt.append("tspan").attr("font-size", 7).attr("dy", -4).text("-2");
rt.append("tspan").attr("dy", 4).text("]");

const bl = [["2015", 156], ["Month", 297.5], ["2016", 434]];
svg.selectAll(".bl").data(bl).join("text").attr("x", d => d[1]).attr("y", 276)
  .attr("text-anchor", "middle").attr("font-size", 10.5).attr("fill", "#222").text(d => d[0]);

// ---- legend ----
const colors = [RED, BLUE, GREEN];
const lg = svg.append("g");
seriesNames.forEach((n, i) => {
  const cy = 15 + i * 14.7;
  lg.append("line").attr("x1", 91).attr("x2", 101).attr("y1", cy).attr("y2", cy)
    .attr("stroke", colors[i]).attr("stroke-width", 3).attr("opacity", 0.75);
  lg.append("rect").attr("x", 94.5).attr("y", cy - 3.5).attr("width", 3).attr("height", 7)
    .attr("fill", colors[i]).attr("opacity", 0.75);
  lg.append("text").attr("x", 109).attr("y", cy + 3.8).attr("font-size", 10.5).attr("fill", "#222").text(n);
});
</script></body></html>
